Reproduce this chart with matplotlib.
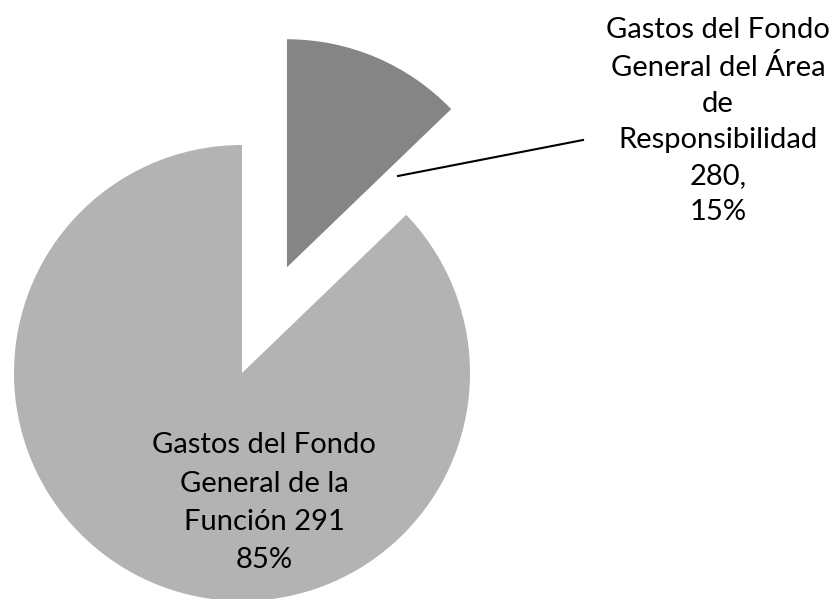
import matplotlib

matplotlib.use("Agg")
import matplotlib.pyplot as plt


# slice shares (the small slice spans about 46 degrees)
shares = [12.8, 87.2]
labels = [
    "Gastos del Fondo\nGeneral del Área\nde\nResponsibilidad\n280,\n15%",
    "Gastos del Fondo\nGeneral de la\nFunción 291\n85%",
]
colors = ["#858585", "#b3b3b3"]

W, H = 835, 599
CX, CY, R = 242, 373, 228  # pie centre and radius in pixels


def px(x, y):
    """pixel position -> data coords (pie radius = 1)"""
    return (x - CX) / R, (CY - y) / R


fig = plt.figure(figsize=(W / 100, H / 100), dpi=100)
ax = fig.add_axes([0, 0, 1, 1])
ax.pie(
    shares,
    colors=colors,
    explode=[0.504, 0],
    startangle=90,
    counterclock=False,
    radius=1,
    wedgeprops=dict(linewidth=0),
)
ax.set_xlim(px(0, 0)[0], px(W, 0)[0])
ax.set_ylim(px(0, H)[1], px(0, 0)[1])
ax.set_aspect("auto")
ax.axis("off")

font = dict(family=["Lato", "DejaVu Sans"], fontsize=21, color="black", ha="center")

# baseline alignment puts the last line's baseline at the given point
ax.text(*px(718, 220), labels[0], va="baseline", linespacing=1.48, **font)
ax.text(*px(264, 568), labels[1], va="baseline", linespacing=1.58, **font)

# leader line from the small slice to its label
x0, y0 = px(398, 176)
x1, y1 = px(583, 140)
ax.plot([x0, x1], [y0, y1], color="black", linewidth=1.5)

fig.savefig("out.png", dpi=100)
